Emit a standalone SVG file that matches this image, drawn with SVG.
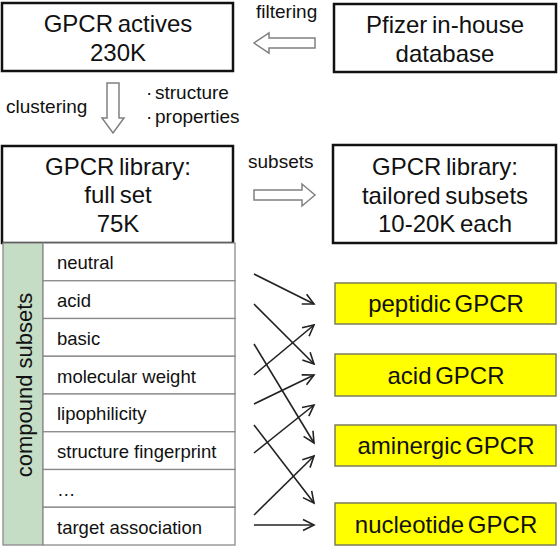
<svg xmlns="http://www.w3.org/2000/svg" width="558" height="547" viewBox="0 0 558 547">
<style>
text{font-family:"Liberation Sans",Arial,sans-serif;fill:#111;}
.box{fill:#fff;stroke:#111;stroke-width:2.5;}
.bt{font-size:24px;text-anchor:middle;word-spacing:-2px;}
.lbl{font-size:19px;}
.blk{fill:#fff;stroke:#808080;stroke-width:1.5;stroke-linejoin:miter;}
.cell{fill:#fff;stroke:#8a8a8a;stroke-width:1.3;}
.rt{font-size:18.5px;}
.yb{fill:#ffff00;stroke:#7d7d5a;stroke-width:1.5;}
.yt{font-size:24px;text-anchor:middle;word-spacing:-3px;}
.ln{stroke:#222;stroke-width:1.6;fill:none;marker-end:url(#ah);}
</style>
<defs>
<marker id="ah" markerUnits="userSpaceOnUse" markerWidth="14" markerHeight="14" refX="12" refY="7" orient="auto">
<path d="M1,1.5 L12,7 L1,12.5" fill="none" stroke="#222" stroke-width="1.6"/>
</marker>
</defs>
<rect width="558" height="547" fill="#fff"/>

<g id="gpcr-actives">
<rect class="box" x="2" y="3" width="231" height="68"/>
<text class="bt" x="118" y="32">GPCR actives</text>
<text class="bt" x="118" y="61">230K</text>
</g>

<g id="pfizer-db">
<rect class="box" x="334" y="4" width="222" height="68"/>
<text class="bt" x="445" y="33">Pfizer in-house</text>
<text class="bt" x="445" y="62">database</text>
</g>

<g id="library-full">
<rect class="box" x="2" y="146" width="231" height="97"/>
<text class="bt" x="118" y="175">GPCR library:</text>
<text class="bt" x="118" y="203">full set</text>
<text class="bt" x="118" y="232">75K</text>
</g>

<g id="library-subsets">
<rect class="box" x="333" y="145" width="223" height="98"/>
<text class="bt" x="445" y="175">GPCR library:</text>
<text class="bt" x="445" y="204">tailored subsets</text>
<text class="bt" x="445" y="232">10-20K each</text>
</g>

<g id="labels">
<text class="lbl" x="256" y="18">filtering</text>
<text class="lbl" x="6" y="113">clustering</text>
<text class="lbl" x="146" y="99">·</text>
<text class="lbl" x="155" y="99">structure</text>
<text class="lbl" x="146" y="123">·</text>
<text class="lbl" x="155" y="123">properties</text>
<text class="lbl" x="248" y="168">subsets</text>
</g>

<g id="compound-subsets">
<rect x="3" y="243" width="40" height="302" fill="#c5dcc5" stroke="#8a8a8a" stroke-width="1.3"/>
<text font-size="22" text-anchor="middle" transform="translate(32,385) rotate(-90)">compound subsets</text>
<rect class="cell" x="43" y="243" width="192" height="37.75"/>
<rect class="cell" x="43" y="280.75" width="192" height="37.75"/>
<rect class="cell" x="43" y="318.5" width="192" height="37.75"/>
<rect class="cell" x="43" y="356.25" width="192" height="37.75"/>
<rect class="cell" x="43" y="394" width="192" height="37.75"/>
<rect class="cell" x="43" y="431.75" width="192" height="37.75"/>
<rect class="cell" x="43" y="469.5" width="192" height="37.75"/>
<rect class="cell" x="43" y="507.25" width="192" height="37.75"/>
<text class="rt" x="57" y="269">neutral</text>
<text class="rt" x="57" y="307">acid</text>
<text class="rt" x="57" y="344.5">basic</text>
<text class="rt" x="57" y="382.5">molecular weight</text>
<text class="rt" x="57" y="420">lipophilicity</text>
<text class="rt" x="57" y="458">structure fingerprint</text>
<text class="rt" x="57" y="495.5">…</text>
<text class="rt" x="57" y="533.5">target association</text>
</g>

<g id="peptidic">
<rect class="yb" x="335" y="283" width="221" height="41"/>
<text class="yt" x="446" y="312">peptidic GPCR</text>
</g>
<g id="acid">
<rect class="yb" x="335" y="354" width="221" height="42"/>
<text class="yt" x="446" y="383.5">acid GPCR</text>
</g>
<g id="aminergic">
<rect class="yb" x="335" y="425" width="221" height="41"/>
<text class="yt" x="446" y="454">aminergic GPCR</text>
</g>
<g id="nucleotide">
<rect class="yb" x="335" y="503" width="221" height="42"/>
<text class="yt" x="446" y="532.5">nucleotide GPCR</text>
</g>

<g id="connectors">
<polygon class="blk" points="254,43 269,33 269,38 315,38 315,48 269,48 269,53"/>
<polygon class="blk" points="107,83 119,83 119,118 124,118 113,133 102,118 107,118"/>
<polygon class="blk" points="254,190 302,190 302,184 315,195 302,206 302,200 254,200"/>
<line class="ln" x1="254" y1="274" x2="314" y2="304"/>
<line class="ln" x1="254" y1="304" x2="314" y2="364"/>
<line class="ln" x1="254" y1="344" x2="314" y2="443"/>
<line class="ln" x1="254" y1="375" x2="314" y2="325"/>
<line class="ln" x1="254" y1="404" x2="314" y2="375"/>
<line class="ln" x1="254" y1="425" x2="314" y2="503"/>
<line class="ln" x1="254" y1="453" x2="314" y2="405"/>
<line class="ln" x1="254" y1="515" x2="314" y2="456"/>
<line class="ln" x1="254" y1="525" x2="314" y2="525"/>
</g>
</svg>
